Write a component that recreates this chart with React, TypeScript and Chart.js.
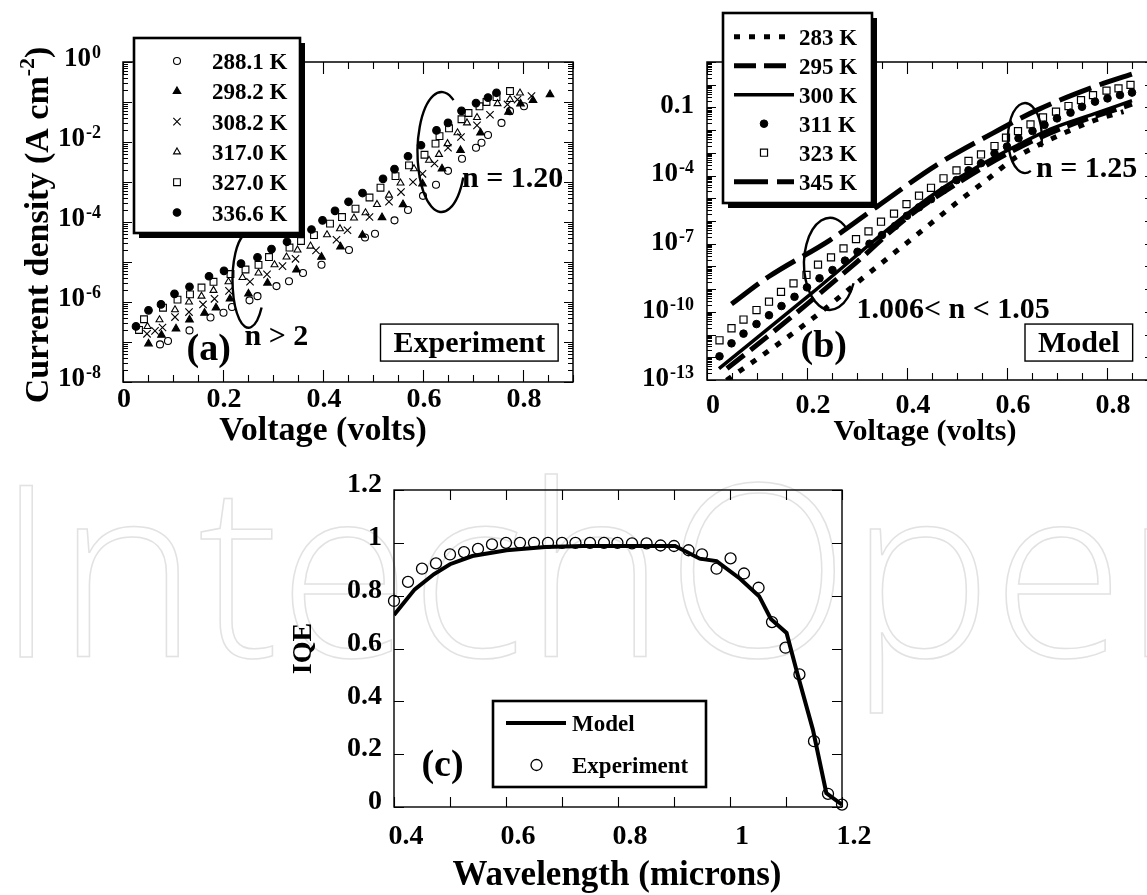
import React, { useEffect, useRef } from 'react';
import { Chart, registerables } from 'chart.js';

Chart.register(...registerables);

const SERIF = '"Liberation Serif", "Times New Roman", Times, serif';
const bold = (px: number) => `bold ${px}px ${SERIF}`;
const INK = '#000000';
const NONE = 'rgba(0,0,0,0)';

/* ---------------- (a) Experiment : J–V ---------------- */
const tempsA = ['288.1 K', '298.2 K', '308.2 K', '317.0 K', '327.0 K', '336.6 K'];

const vA288 = [0.074, 0.090, 0.133, 0.175, 0.201, 0.218, 0.253, 0.269, 0.307, 0.332, 0.360, 0.397, 0.452, 0.484, 0.504, 0.543, 0.570, 0.600, 0.626, 0.650, 0.678, 0.706, 0.717, 0.730, 0.757, 0.774, 0.802];
const jA288 = [8.7e-8, 1.06e-7, 1.95e-7, 4.1e-7, 5.4e-7, 7.5e-7, 1.1e-6, 1.4e-6, 2.5e-6, 3.3e-6, 5.3e-6, 8.5e-6, 2.0e-5, 4.1e-5, 5.1e-5, 1.1e-4, 2.0e-4, 4.5e-4, 8.5e-4, 1.9e-3, 3.8e-3, 7.2e-3, 9.6e-3, 1.5e-2, 3.0e-2, 5.9e-2, 7.8e-2];

const vA298 = [0.051, 0.077, 0.106, 0.133, 0.163, 0.186, 0.214, 0.251, 0.289, 0.347, 0.397, 0.435, 0.479, 0.518, 0.560, 0.599, 0.638, 0.675, 0.715, 0.771, 0.795, 0.820, 0.854];
const jA298 = [9.1e-8, 1.5e-7, 2.15e-7, 3.6e-7, 5.3e-7, 7.2e-7, 1.2e-6, 1.6e-6, 3.0e-6, 6.4e-6, 1.33e-5, 2.4e-5, 4.7e-5, 1.3e-4, 2.75e-4, 9.1e-4, 2.15e-3, 6.2e-3, 1.7e-2, 5.6e-2, 9.1e-2, 0.11, 0.155];

const vA308 = [0.048, 0.064, 0.079, 0.104, 0.132, 0.160, 0.183, 0.212, 0.254, 0.288, 0.319, 0.345, 0.386, 0.427, 0.449, 0.493, 0.532, 0.556, 0.580, 0.599, 0.623, 0.650, 0.676, 0.708, 0.734, 0.769, 0.789, 0.817];
const jA308 = [1.6e-7, 1.9e-7, 2.3e-7, 4.2e-7, 5.6e-7, 8.7e-7, 1.2e-6, 1.9e-6, 3.2e-6, 4.9e-6, 7.9e-6, 1.2e-5, 1.95e-5, 3.6e-5, 6.2e-5, 1.33e-4, 3.2e-4, 5.6e-4, 1.0e-3, 1.6e-3, 2.9e-3, 7.2e-3, 1.33e-2, 2.6e-2, 4.8e-2, 8.7e-2, 0.115, 0.141];

const vA317 = [0.049, 0.073, 0.104, 0.132, 0.157, 0.181, 0.211, 0.239, 0.271, 0.303, 0.327, 0.349, 0.375, 0.408, 0.434, 0.462, 0.485, 0.508, 0.532, 0.555, 0.582, 0.612, 0.632, 0.649, 0.669, 0.688, 0.708, 0.749, 0.774, 0.794];
const jA317 = [2.45e-7, 3.6e-7, 6.4e-7, 1.0e-6, 1.4e-6, 1.95e-6, 3.2e-6, 4.1e-6, 5.3e-6, 8.5e-6, 1.33e-5, 2.0e-5, 2.5e-5, 4.8e-5, 6.8e-5, 1.26e-4, 1.7e-4, 2.75e-4, 4.7e-4, 9.4e-4, 2.15e-3, 3.5e-3, 4.9e-3, 9.1e-3, 1.7e-2, 3.0e-2, 4.1e-2, 9.1e-2, 0.115, 0.168];

const vA327 = [0.032, 0.042, 0.080, 0.109, 0.134, 0.157, 0.181, 0.215, 0.245, 0.271, 0.292, 0.333, 0.356, 0.382, 0.414, 0.438, 0.465, 0.493, 0.515, 0.545, 0.572, 0.603, 0.625, 0.633, 0.652, 0.677, 0.691, 0.713, 0.727, 0.747, 0.774];
const jA327 = [2.0e-7, 3.7e-7, 7.2e-7, 1.15e-6, 1.55e-6, 2.3e-6, 3.2e-6, 5.0e-6, 6.5e-6, 8.5e-6, 1.33e-5, 2.3e-5, 3.35e-5, 4.7e-5, 9.1e-5, 1.33e-4, 2.15e-4, 4.1e-4, 7.2e-4, 1.4e-3, 2.6e-3, 4.8e-3, 9.1e-3, 1.4e-2, 2.2e-2, 3.7e-2, 5.3e-2, 7.8e-2, 0.1, 0.133, 0.188];

const vA337 = [0.026, 0.051, 0.076, 0.103, 0.133, 0.172, 0.202, 0.236, 0.269, 0.297, 0.328, 0.377, 0.399, 0.424, 0.451, 0.479, 0.520, 0.543, 0.570, 0.596, 0.627, 0.650, 0.677, 0.706, 0.730, 0.747];
const jA337 = [2.45e-7, 6.2e-7, 8.7e-7, 1.6e-6, 2.4e-6, 4.4e-6, 6.0e-6, 9.1e-6, 1.3e-5, 2.1e-5, 3.2e-5, 6.5e-5, 1.1e-4, 1.9e-4, 3.2e-4, 5.3e-4, 1.2e-3, 2.1e-3, 4.4e-3, 8.3e-3, 1.95e-2, 3.0e-2, 6.0e-2, 9.4e-2, 0.129, 0.17];

const xTickLabelsA = [0, 0.2, 0.4, 0.6, 0.8];
const yExponentsA = [0, -2, -4, -6, -8];

/* ---------------- (b) Model : J–V ---------------- */
const tempsB = ['283 K', '295 K', '300 K', '311 K', '323 K', '345 K'];

const vB283 = [0.039, 0.123, 0.205, 0.311, 0.419, 0.502, 0.559, 0.613, 0.663, 0.720, 0.777, 0.833];
const jB283 = [9.8e-14, 1.9e-12, 4.0e-11, 3.0e-9, 2.4e-7, 7.1e-6, 6.3e-5, 5.4e-4, 2.2e-3, 8.5e-3, 2.8e-2, 6.5e-2];

const vB295 = [0.040, 0.120, 0.200, 0.300, 0.400, 0.500, 0.600, 0.700, 0.850];
const jB295 = [3.2e-13, 7.9e-12, 2.2e-10, 1.6e-8, 1.4e-6, 4.5e-5, 9.0e-4, 1.0e-2, 0.14];

const vB300 = [0.024, 0.209, 0.397, 0.470, 0.542, 0.614, 0.687, 0.774, 0.850];
const jB300 = [3.2e-13, 6.5e-10, 1.8e-6, 2.7e-5, 2.5e-4, 1.8e-3, 1.1e-2, 5.2e-2, 0.2];

const vB311 = [0.025, 0.049, 0.073, 0.099, 0.124, 0.149, 0.175, 0.200, 0.225, 0.251, 0.276, 0.301, 0.325, 0.350, 0.376, 0.400, 0.424, 0.448, 0.473, 0.499, 0.523, 0.548, 0.575, 0.600, 0.623, 0.651, 0.675, 0.700, 0.727, 0.750, 0.776, 0.801, 0.826, 0.850];
const jB311 = [1.1e-12, 4.1e-12, 1.1e-11, 2.9e-11, 7.1e-11, 1.8e-10, 4.6e-10, 1.2e-9, 3.0e-9, 6.9e-9, 1.8e-8, 4.4e-8, 1.0e-7, 2.4e-7, 6.0e-7, 1.7e-6, 4.0e-6, 9.1e-6, 2.3e-5, 6.3e-5, 1.7e-4, 3.5e-4, 9.5e-4, 1.9e-3, 4.4e-3, 9.1e-3, 1.7e-2, 3.3e-2, 5.9e-2, 0.107, 0.18, 0.25, 0.35, 0.45];

const vB323 = [0.025, 0.049, 0.073, 0.099, 0.124, 0.148, 0.173, 0.199, 0.222, 0.248, 0.273, 0.298, 0.323, 0.348, 0.374, 0.399, 0.424, 0.448, 0.473, 0.499, 0.523, 0.548, 0.575, 0.598, 0.622, 0.647, 0.672, 0.698, 0.723, 0.748, 0.772, 0.799, 0.823, 0.847];
const jB323 = [5.6e-12, 1.9e-11, 4.6e-11, 1.2e-10, 2.8e-10, 7.6e-10, 1.8e-9, 4.2e-9, 1.2e-8, 2.5e-8, 6.2e-8, 1.6e-7, 3.5e-7, 9.3e-7, 2.1e-6, 5.5e-6, 1.3e-5, 2.9e-5, 7.6e-5, 1.7e-4, 4.4e-4, 8.5e-4, 2.0e-3, 4.7e-3, 9.1e-3, 1.8e-2, 3.6e-2, 6.5e-2, 0.115, 0.21, 0.35, 0.55, 0.69, 0.98];

const vB345 = [0.049, 0.123, 0.246, 0.340, 0.459, 0.571, 0.661, 0.774, 0.850];
const jB345 = [2.2e-10, 3.5e-9, 1.45e-7, 4.3e-6, 2.9e-4, 7.2e-3, 7.8e-2, 0.81, 2.95];

const xTickLabelsB = [0, 0.2, 0.4, 0.6, 0.8];
const yExponentsB = [-1, -4, -7, -10, -13];

/* ---------------- (c) IQE ---------------- */
const lambdaExp = [0.400, 0.425, 0.450, 0.475, 0.500, 0.525, 0.550, 0.575, 0.600, 0.625, 0.650, 0.675, 0.700, 0.724, 0.750, 0.775, 0.799, 0.825, 0.851, 0.876, 0.900, 0.926, 0.950, 0.976, 1.001, 1.025, 1.051, 1.075, 1.099, 1.124, 1.150, 1.175, 1.200];
const iqeExp = [0.780, 0.852, 0.902, 0.922, 0.956, 0.965, 0.977, 0.994, 1.000, 1.000, 1.000, 1.000, 1.000, 1.000, 1.000, 1.000, 1.000, 0.998, 0.998, 0.990, 0.988, 0.972, 0.956, 0.902, 0.941, 0.884, 0.830, 0.700, 0.603, 0.502, 0.249, 0.050, 0.009];
const lambdaModel = [0.400, 0.437, 0.471, 0.500, 0.540, 0.601, 0.670, 0.738, 0.806, 0.868, 0.902, 0.946, 0.976, 1.018, 1.052, 1.073, 1.101, 1.120, 1.148, 1.172, 1.200];
const iqeModel = [0.727, 0.824, 0.881, 0.919, 0.950, 0.972, 0.984, 0.988, 0.988, 0.988, 0.988, 0.940, 0.931, 0.864, 0.798, 0.712, 0.659, 0.507, 0.293, 0.053, 0.009];
const xTickLabelsC = [0.4, 0.6, 0.8, 1, 1.2];
const yTickLabelsC = [0, 0.2, 0.4, 0.6, 0.8, 1, 1.2];

const WATERMARK = 'IntechOpen';

/* ---------------- helpers ---------------- */
const pts = (xs: number[], ys: number[]) => xs.map((x, i) => ({ x, y: ys[i] }));
const steps = (a: number, b: number, s: number) => {
  const out: number[] = [];
  for (let i = 0; a + i * s <= b + 1e-9; i++) out.push(+(a + i * s).toFixed(4));
  return out;
};
const decades = (e0: number, e1: number) => steps(e0, e1, 1).map((e) => Math.pow(10, e));
const logMinors = (e0: number, e1: number) => {
  const out: number[] = [];
  for (let e = e0; e < e1; e++) for (let k = 2; k <= 9; k++) out.push(k * Math.pow(10, e));
  return out;
};

function hTicks(ctx: any, scale: any, values: number[], y: number, len: number) {
  for (const v of values) {
    const x = Math.round(scale.getPixelForValue(v)) + 0.5;
    ctx.moveTo(x, y);
    ctx.lineTo(x, y + len);
  }
}
function vTicks(ctx: any, scale: any, values: number[], x: number, len: number) {
  for (const v of values) {
    const y = Math.round(scale.getPixelForValue(v)) + 0.5;
    ctx.moveTo(x, y);
    ctx.lineTo(x + len, y);
  }
}
function frame(ctx: any, ca: any, lw: number) {
  ctx.lineWidth = lw;
  ctx.strokeStyle = INK;
  ctx.strokeRect(ca.left, ca.top, ca.right - ca.left, ca.bottom - ca.top);
}
function text(ctx: any, s: string, x: number, y: number, size: number, align = 'left') {
  ctx.font = bold(size);
  ctx.fillStyle = INK;
  ctx.textAlign = align;
  ctx.textBaseline = 'alphabetic';
  ctx.fillText(s, x, y);
}
function powLabel(ctx: any, exp: number, xRight: number, yMid: number, size: number, supSize: number) {
  const base = '10';
  const sup = String(exp);
  ctx.font = bold(supSize);
  const ws = ctx.measureText(sup).width;
  ctx.font = bold(size);
  const wb = ctx.measureText(base).width;
  const x0 = xRight - ws - wb - 1;
  const baseY = yMid + size * 0.33;
  text(ctx, base, x0, baseY, size);
  text(ctx, sup, x0 + wb + 1, baseY - size * 0.3, supSize);
}
function vertTitle(ctx: any, parts: { t: string; sup?: boolean }[], baseX: number, cy: number, size: number, supSize: number) {
  ctx.save();
  ctx.translate(baseX, cy);
  ctx.rotate(-Math.PI / 2);
  let total = 0;
  for (const p of parts) {
    ctx.font = bold(p.sup ? supSize : size);
    total += ctx.measureText(p.t).width;
  }
  let x = -total / 2;
  for (const p of parts) {
    ctx.font = bold(p.sup ? supSize : size);
    ctx.fillStyle = INK;
    ctx.textAlign = 'left';
    ctx.textBaseline = 'alphabetic';
    ctx.fillText(p.t, x, p.sup ? -size * 0.42 : 0);
    x += ctx.measureText(p.t).width;
  }
  ctx.restore();
}
function arcEllipse(ctx: any, cx: number, cy: number, rx: number, ry: number, a0: number, a1: number) {
  ctx.beginPath();
  ctx.lineWidth = 2.4;
  ctx.strokeStyle = INK;
  ctx.ellipse(cx, cy, rx, ry, 0, (a0 * Math.PI) / 180, (a1 * Math.PI) / 180);
  ctx.stroke();
}
function box(ctx: any, x: number, y: number, w: number, h: number, shadow: number, lw: number) {
  if (shadow) {
    ctx.fillStyle = INK;
    ctx.fillRect(x + shadow, y + shadow, w, h);
  }
  ctx.fillStyle = '#ffffff';
  ctx.fillRect(x, y, w, h);
  ctx.lineWidth = lw;
  ctx.strokeStyle = INK;
  ctx.strokeRect(x, y, w, h);
  ctx.fillStyle = INK;
}
function boxedText(ctx: any, s: string, x: number, baseline: number, size: number) {
  ctx.font = bold(size);
  const w = ctx.measureText(s).width;
  box(ctx, x - 13, baseline - 28, w + 26, 37, 0, 1.4);
  text(ctx, s, x, baseline, size);
}
function marker(ctx: any, shape: string, x: number, y: number, r: number, fill: boolean, lw: number) {
  ctx.beginPath();
  if (shape === 'circle') ctx.arc(x, y, r, 0, Math.PI * 2);
  else if (shape === 'rect') {
    const s = r * Math.SQRT1_2;
    ctx.rect(x - s, y - s, 2 * s, 2 * s);
  } else if (shape === 'triangle') {
    let a = 0;
    ctx.moveTo(x + Math.sin(a) * r, y - Math.cos(a) * r);
    a += (2 * Math.PI) / 3;
    ctx.lineTo(x + Math.sin(a) * r, y - Math.cos(a) * r);
    a += (2 * Math.PI) / 3;
    ctx.lineTo(x + Math.sin(a) * r, y - Math.cos(a) * r);
    ctx.closePath();
  } else if (shape === 'crossRot') {
    const d = r * Math.SQRT1_2;
    ctx.moveTo(x - d, y - d);
    ctx.lineTo(x + d, y + d);
    ctx.moveTo(x - d, y + d);
    ctx.lineTo(x + d, y - d);
  }
  if (fill) {
    ctx.fillStyle = INK;
    ctx.fill();
  }
  ctx.lineWidth = lw;
  ctx.strokeStyle = INK;
  ctx.stroke();
}

const tickFont = { family: SERIF, size: 28, weight: 'bold' };
function fixedScale(size: { width?: number; height?: number }) {
  return (s: any) => {
    if (size.width !== undefined) s.width = size.width;
    if (size.height !== undefined) s.height = size.height;
    s.paddingLeft = 0;
    s.paddingRight = 0;
    s.paddingTop = 0;
    s.paddingBottom = 0;
  };
}
function linearAxis(min: number, max: number, labels: number[], fit: any, padding: number, labelOffset: number) {
  return {
    type: 'linear',
    min,
    max,
    afterBuildTicks: (s: any) => {
      s.ticks = labels.map((v) => ({ value: v }));
    },
    afterFit: fixedScale(fit),
    ticks: {
      font: tickFont,
      color: INK,
      padding,
      labelOffset,
      autoSkip: false,
      maxRotation: 0,
      minRotation: 0,
      callback: (v: any) => `${Number(v)}`,
    },
    grid: { display: false, drawTicks: false },
    border: { display: false },
  };
}
function logAxis(min: number, max: number, width: number) {
  return {
    type: 'logarithmic',
    min,
    max,
    afterFit: fixedScale({ width }),
    ticks: { display: false },
    grid: { display: false, drawTicks: false },
    border: { display: false },
  };
}
const baseOptions = (padding: any) => ({
  responsive: false,
  animation: false,
  devicePixelRatio: 1,
  events: [],
  layout: { padding },
  plugins: { legend: { display: false }, tooltip: { enabled: false } },
});

/* ---------------- (a) ---------------- */
const stylesA = [
  { shape: 'circle', r: 3.5, fill: false },
  { shape: 'triangle', r: 4.4, fill: true },
  { shape: 'crossRot', r: 5.2, fill: false },
  { shape: 'triangle', r: 4.0, fill: false },
  { shape: 'rect', r: 4.8, fill: false },
  { shape: 'circle', r: 3.8, fill: true },
];

function decorateA(chart: any) {
  const ctx = chart.ctx;
  const ca = chart.chartArea;
  const xs = chart.scales.x;
  const ys = chart.scales.y;
  const at = (x: number, y: number) => [xs.getPixelForValue(x), ys.getPixelForValue(y)];
  ctx.save();
  frame(ctx, ca, 1.5);
  ctx.lineWidth = 1.1;
  ctx.beginPath();
  const xMinor = steps(0, 0.9, 0.05);
  hTicks(ctx, xs, xTickLabelsA, ca.bottom, -12);
  hTicks(ctx, xs, xMinor, ca.bottom, -7);
  hTicks(ctx, xs, xTickLabelsA, ca.top, 12);
  hTicks(ctx, xs, xMinor, ca.top, 7);
  vTicks(ctx, ys, decades(-8, 0), ca.left, 9);
  vTicks(ctx, ys, logMinors(-8, 0), ca.left, 5);
  vTicks(ctx, ys, decades(-8, 0), ca.right, -9);
  vTicks(ctx, ys, logMinors(-8, 0), ca.right, -5);
  ctx.stroke();

  for (const e of yExponentsA) powLabel(ctx, e, ca.left - 22, ys.getPixelForValue(Math.pow(10, e)) - 5, 27, 18);

  text(ctx, 'Voltage (volts)', (ca.left + ca.right) / 2 - 25, ca.bottom + 58, 34, 'center');
  vertTitle(ctx, [{ t: 'Current density (A cm' }, { t: '-2', sup: true }, { t: ')' }], ca.left - 75, (ca.top + ca.bottom) / 2 + 3, 34, 22);

  // annotations
  let p = at(0.251, 3.5e-6);
  arcEllipse(ctx, p[0], p[1], 16, 47.5, 35, 285);
  p = at(0.637, 5.6e-3);
  arcEllipse(ctx, p[0], p[1], 24, 60, 25, 300);
  p = at(0.243, 8.4e-8);
  text(ctx, 'n > 2', p[0], p[1], 30);
  p = at(0.678, 7.5e-4);
  text(ctx, 'n = 1.20', p[0], p[1], 30);
  p = at(0.127, 3.5e-8);
  text(ctx, '(a)', p[0], p[1], 38);
  p = at(0.541, 5.6e-8);
  boxedText(ctx, 'Experiment', p[0], p[1], 30);

  // legend
  const lx = ca.left + 11;
  const ly = ca.top - 24;
  box(ctx, lx, ly, 166, 195, 5, 2.6);
  tempsA.forEach((t, i) => {
    const ry = ca.top - 1 + i * 30.3;
    const st = stylesA[i];
    marker(ctx, st.shape, ca.left + 54, ry, st.r, st.fill, 1.1);
    text(ctx, t, ca.left + 89, ry + 8, 23);
  });
  ctx.restore();
}

function makeA() {
  const series = [
    [vA288, jA288],
    [vA298, jA298],
    [vA308, jA308],
    [vA317, jA317],
    [vA327, jA327],
    [vA337, jA337],
  ];
  return {
    type: 'scatter',
    data: {
      datasets: series.map(([v, j], i) => ({
        label: tempsA[i],
        data: pts(v, j),
        showLine: false,
        pointStyle: stylesA[i].shape,
        pointRadius: stylesA[i].r,
        pointBorderWidth: 1.1,
        pointBorderColor: INK,
        pointBackgroundColor: stylesA[i].fill ? INK : NONE,
      })),
    },
    options: {
      ...baseOptions({ left: 0, top: 62, right: 27, bottom: 0 }),
      scales: {
        x: linearAxis(0, 0.9, xTickLabelsA, { height: 88 }, 1, 1),
        y: logAxis(1e-8, 1, 123),
      },
    },
    plugins: [{ id: 'decorA', afterDraw: decorateA }],
  };
}

/* ---------------- (b) ---------------- */
const lineStylesB = [
  { dash: [6, 9], width: 5 },
  { dash: [22, 8], width: 5 },
  { dash: [], width: 3.5 },
  null,
  null,
  { dash: [34, 9], width: 5 },
];

function decorateB(chart: any) {
  const ctx = chart.ctx;
  const ca = chart.chartArea;
  const xs = chart.scales.x;
  const ys = chart.scales.y;
  const at = (x: number, y: number) => [xs.getPixelForValue(x), ys.getPixelForValue(y)];
  ctx.save();
  frame(ctx, ca, 1.5);
  ctx.lineWidth = 1.1;
  ctx.beginPath();
  const xMinor = steps(0, 0.9, 0.05);
  hTicks(ctx, xs, xTickLabelsB, ca.bottom, -12);
  hTicks(ctx, xs, xMinor, ca.bottom, -7);
  hTicks(ctx, xs, xTickLabelsB, ca.top, 12);
  hTicks(ctx, xs, xMinor, ca.top, 7);
  vTicks(ctx, ys, decades(-13, 1), ca.left, 9);
  vTicks(ctx, ys, logMinors(-13, 1), ca.left, 5);
  vTicks(ctx, ys, decades(-13, 1), ca.right, -12);
  ctx.stroke();

  for (const e of yExponentsB) {
    const y = ys.getPixelForValue(Math.pow(10, e)) - 3;
    if (e === -1) text(ctx, '0.1', ca.left - 13, y + 27 * 0.33, 27, 'right');
    else powLabel(ctx, e, ca.left - 13, y, 27, 18);
  }
  text(ctx, 'Voltage (volts)', (ca.left + ca.right) / 2 - 7, ca.bottom + 60, 30, 'center');

  let p = at(0.246, 1.3e-8);
  arcEllipse(ctx, p[0], p[1], 26, 46, 25, 310);
  p = at(0.636, 4.5e-3);
  arcEllipse(ctx, p[0], p[1], 17, 35, 70, 375);
  p = at(0.299, 5.4e-11);
  text(ctx, '1.006< n < 1.05', p[0], p[1], 30);
  p = at(0.658, 8.7e-5);
  text(ctx, 'n = 1.25', p[0], p[1], 30);
  p = at(0.187, 1.0e-12);
  text(ctx, '(b)', p[0], p[1], 38);
  p = at(0.662, 1.7e-12);
  boxedText(ctx, 'Model', p[0], p[1], 30);

  // legend
  box(ctx, ca.left + 16, ca.top - 49, 149, 190, 5, 2.6);
  tempsB.forEach((t, i) => {
    const ry = ca.top - 25.3 + i * 29;
    const ls = lineStylesB[i];
    if (ls) {
      ctx.beginPath();
      ctx.setLineDash(ls.dash);
      ctx.lineWidth = ls.width;
      ctx.lineCap = 'butt';
      ctx.strokeStyle = INK;
      ctx.moveTo(ca.left + 27, ry);
      ctx.lineTo(ca.left + 87, ry);
      ctx.stroke();
      ctx.setLineDash([]);
    } else if (i === 3) marker(ctx, 'circle', ca.left + 57, ry, 3.8, true, 1);
    else marker(ctx, 'rect', ca.left + 57, ry, 5, false, 1.2);
    text(ctx, t, ca.left + 92, ry + 8, 23);
  });
  ctx.restore();
}

function makeB() {
  const lineSet = (v: number[], j: number[], i: number) => ({
    label: tempsB[i],
    data: pts(v, j),
    showLine: true,
    pointRadius: 0,
    borderColor: INK,
    borderWidth: lineStylesB[i]!.width,
    borderDash: lineStylesB[i]!.dash,
    borderCapStyle: 'butt',
    cubicInterpolationMode: 'monotone',
  });
  return {
    type: 'scatter',
    data: {
      datasets: [
        lineSet(vB283, jB283, 0),
        lineSet(vB295, jB295, 1),
        lineSet(vB300, jB300, 2),
        {
          label: tempsB[3],
          data: pts(vB311, jB311),
          showLine: false,
          pointStyle: 'circle',
          pointRadius: 3.8,
          pointBorderWidth: 1,
          pointBorderColor: INK,
          pointBackgroundColor: INK,
        },
        {
          label: tempsB[4],
          data: pts(vB323, jB323),
          showLine: false,
          pointStyle: 'rect',
          pointRadius: 5,
          pointBorderWidth: 1.2,
          pointBorderColor: INK,
          pointBackgroundColor: '#ffffff',
        },
        lineSet(vB345, jB345, 5),
      ],
    },
    options: {
      ...baseOptions({ left: 0, top: 62, right: 23, bottom: 0 }),
      scales: {
        x: linearAxis(0, 0.9, xTickLabelsB, { height: 90 }, 9, 6),
        y: logAxis(1e-13, 10, 127),
      },
    },
    plugins: [{ id: 'decorB', afterDraw: decorateB }],
  };
}

/* ---------------- (c) ---------------- */
function decorateC(chart: any) {
  const ctx = chart.ctx;
  const ca = chart.chartArea;
  const xs = chart.scales.x;
  const ys = chart.scales.y;
  ctx.save();
  frame(ctx, ca, 1.4);
  ctx.lineWidth = 1.1;
  ctx.beginPath();
  const xT = steps(0.4, 1.2, 0.1);
  hTicks(ctx, xs, xT, ca.bottom, -10);
  hTicks(ctx, xs, xT, ca.top, 10);
  vTicks(ctx, ys, yTickLabelsC, ca.left, 10);
  vTicks(ctx, ys, yTickLabelsC, ca.right, -10);
  ctx.stroke();

  text(ctx, 'Wavelength (microns)', (ca.left + ca.right) / 2 - 1, ca.bottom + 78, 35, 'center');
  vertTitle(ctx, [{ t: 'IQE' }], ca.left - 83, (ca.top + ca.bottom) / 2, 28, 18);

  const px = xs.getPixelForValue(0.449);
  const py = ys.getPixelForValue(0.117);
  text(ctx, '(c)', px, py, 38);

  // legend
  box(ctx, ca.left + 99, ca.top + 211, 213, 86, 0, 2.6);
  ctx.beginPath();
  ctx.lineWidth = 4;
  ctx.strokeStyle = INK;
  ctx.moveTo(ca.left + 112, ca.top + 233);
  ctx.lineTo(ca.left + 172, ca.top + 233);
  ctx.stroke();
  text(ctx, 'Model', ca.left + 178, ca.top + 241, 23);
  marker(ctx, 'circle', ca.left + 142.5, ca.top + 275, 5.5, false, 1.3);
  text(ctx, 'Experiment', ca.left + 178, ca.top + 283, 23);
  ctx.restore();
}

function makeC() {
  return {
    type: 'scatter',
    data: {
      datasets: [
        {
          label: 'Model',
          data: pts(lambdaModel, iqeModel),
          showLine: true,
          pointRadius: 0,
          borderColor: INK,
          borderWidth: 4,
          tension: 0,
        },
        {
          label: 'Experiment',
          data: pts(lambdaExp, iqeExp),
          showLine: false,
          clip: false,
          pointStyle: 'circle',
          pointRadius: 5.5,
          pointBorderWidth: 1.3,
          pointBorderColor: INK,
          pointBackgroundColor: NONE,
        },
      ],
    },
    options: {
      ...baseOptions({ left: 0, top: 20, right: 38, bottom: 0 }),
      scales: {
        x: linearAxis(0.4, 1.2, xTickLabelsC, { height: 88 }, 13, 12),
        y: linearAxis(0, 1.2, yTickLabelsC, { width: 114 }, 12, -5),
      },
    },
    plugins: [{ id: 'decorC', afterDraw: decorateC }],
  };
}

/* ---------------- components ---------------- */
function ChartCanvas({ left, top, width, height, make }: any) {
  const ref = useRef<HTMLCanvasElement | null>(null);
  useEffect(() => {
    if (!ref.current) return;
    const chart = new Chart(ref.current, make());
    return () => chart.destroy();
  }, []);
  return (
    <canvas
      ref={ref}
      width={width}
      height={height}
      style={{ position: 'absolute', left, top, width, height, display: 'block' }}
    />
  );
}

export default function App() {
  return (
    <div
      style={{
        position: 'absolute',
        left: 0,
        top: 0,
        width: 1147,
        height: 895,
        overflow: 'hidden',
        background: '#ffffff',
      }}
    >
      <div
        style={{
          position: 'absolute',
          left: -4,
          top: 444,
          font: '300 240px "Open Sans", sans-serif',
          lineHeight: 1,
          whiteSpace: 'nowrap',
          color: 'transparent',
          WebkitTextStroke: '1.5px #e2e2e2',
          userSelect: 'none',
          pointerEvents: 'none',
        }}
      >
        {WATERMARK}
      </div>
      <ChartCanvas left={0} top={0} width={600} height={470} make={makeA} />
      <ChartCanvas left={580} top={0} width={600} height={470} make={makeB} />
      <ChartCanvas left={280} top={470} width={600} height={425} make={makeC} />
    </div>
  );
}
